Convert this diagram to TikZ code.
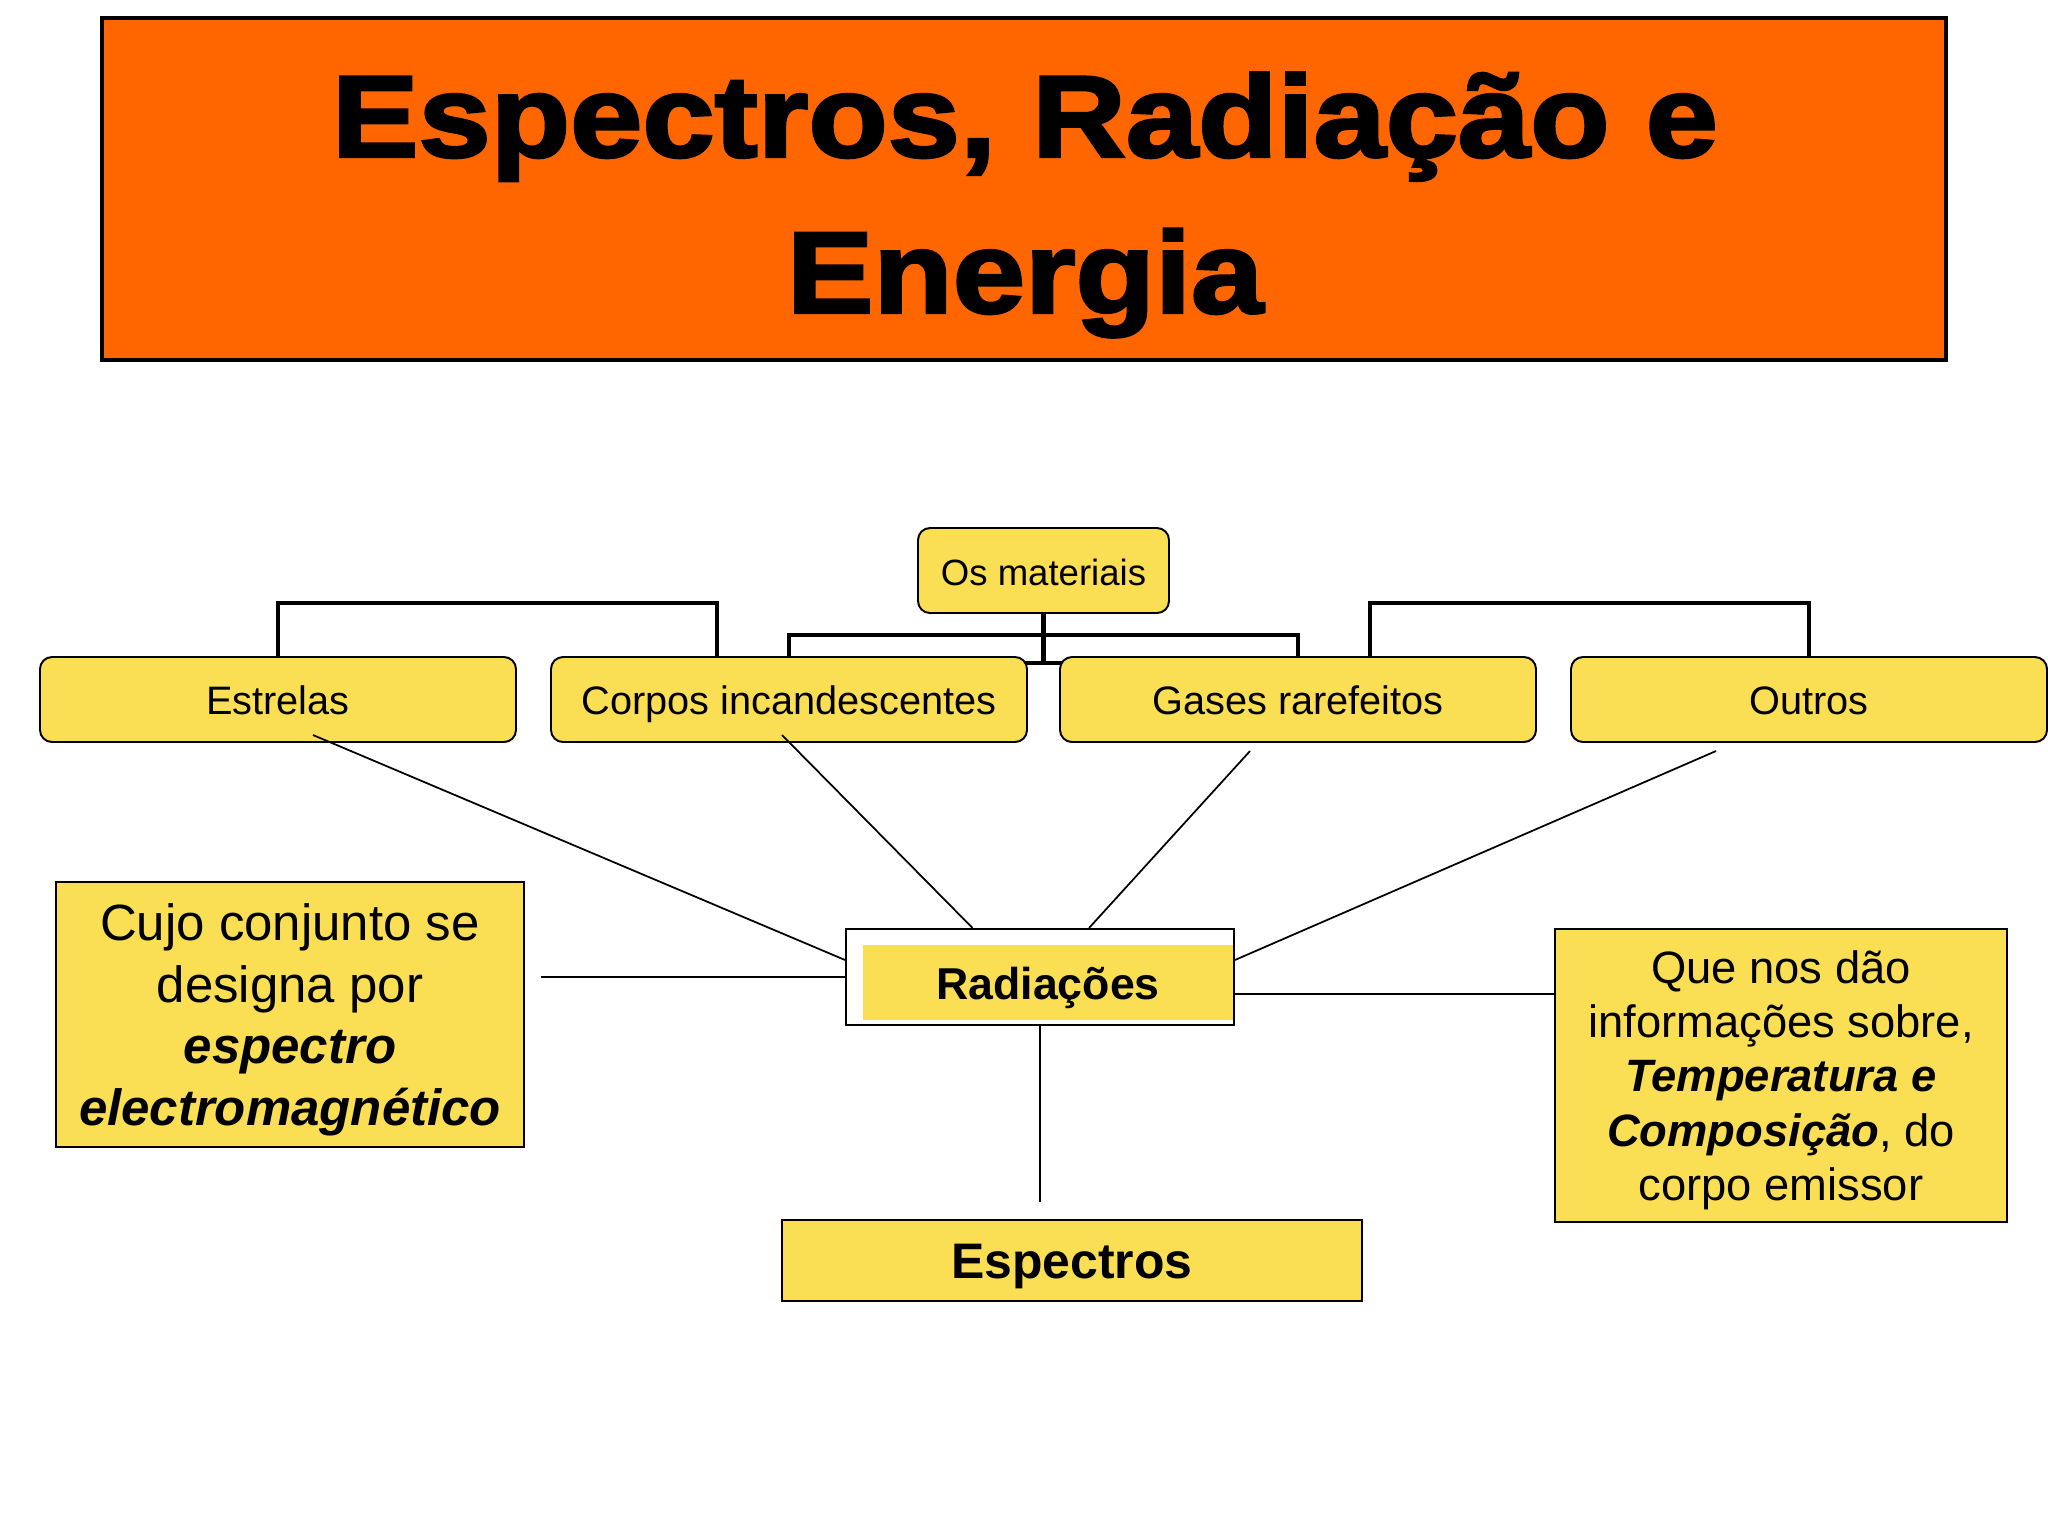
\documentclass[tikz,border=0pt]{standalone}
\usepackage{fontspec}
\setmainfont{Liberation Sans}
\newfontfamily\titlefont[FakeBold=2.5,FakeStretch=1.12]{Liberation Sans Bold}
\usetikzlibrary{calc, backgrounds}
\definecolor{titleorange}{RGB}{255,102,0}
\definecolor{boxyellow}{RGB}{250,222,84}
\tikzset{
  titlebox/.style = {draw, line width=1.2pt, fill=titleorange, inner sep=0pt,
                     minimum width=184.4mm, minimum height=34.2mm},
  titletxt/.style = {align=center, inner sep=0pt,
                     font=\titlefont\fontsize{33}{44.4}\selectfont},
  matbox/.style   = {draw, line width=0.55pt, fill=boxyellow, rounded corners=1.2mm,
                     inner sep=0pt, minimum width=47.6mm, minimum height=8.5mm,
                     text height=0.85em, text depth=0pt,
                     font=\fontsize{11.3}{13.5}\selectfont},
  headbox/.style  = {matbox, minimum width=25.1mm, font=\fontsize{10.4}{12.5}\selectfont},
  notebox/.style  = {draw, line width=0.6pt, fill=boxyellow, inner sep=0pt, align=center},
  radbox/.style   = {draw, line width=0.6pt, fill=white, inner sep=0pt,
                     minimum width=38.8mm, minimum height=9.6mm,
                     text height=1.29em, text depth=0pt,
                     font=\bfseries\fontsize{12.7}{15}\selectfont,
                     path picture={\fill[boxyellow]
                       ([shift={(1.7mm,-1.6mm)}]path picture bounding box.north west) rectangle
                       ([shift={(-0.1mm,0.5mm)}]path picture bounding box.south east);}},
  bracket/.style  = {line width=1.4pt},
  link/.style     = {line width=0.5pt},
}

\begin{document}
\begin{tikzpicture}[x=0.1mm, y=-0.1mm]
  \useasboundingbox (0,0) rectangle (2048,1536);

  % title
  \node[titlebox] (titlebox) at (1024,189) {};
  \node[titletxt] (title) at (1025,205) {Espectros, Radiação e\\Energia};

  % materials tree
  \node[headbox] (materiais) at (1043.5,570.5) {Os materiais};
  \node[matbox] (estrelas) at (278,699.5)  {Estrelas};
  \node[matbox] (corpos)   at (789,699.5)  {Corpos incandescentes};
  \node[matbox] (gases)    at (1298,699.5) {Gases rarefeitos};
  \node[matbox] (outros)   at (1809,699.5) {Outros};

  \coordinate (lbar) at (717,603);
  \coordinate (rbar) at (1370,603);
  \coordinate (mbar) at (1043.5,635);
  \coordinate (mjoin) at (1043.5,663);
  \begin{scope}[on background layer]
    \draw[bracket] (estrelas.north) |- (lbar) -- (lbar |- corpos.north);
    \draw[bracket] (outros.north) |- (rbar) -- (rbar |- gases.north);
    \draw[bracket] (corpos.north) |- (mbar) -| (gases.north);
    \draw[bracket] (materiais.south) -- (mjoin);
    \draw[bracket] (corpos.north |- mjoin) -- (gases.north |- mjoin);
  \end{scope}

  % radiation and notes
  \node[radbox] (rad) at (1040,977) {\hspace*{1.6mm}Radiações};
  \node[notebox, minimum width=46.8mm, minimum height=26.5mm, text depth=-3.8pt,
        font=\fontsize{14.5}{17.5}\selectfont] (conjunto) at (290,1014.5)
    {Cujo conjunto se\\designa por\\\textbf{\textit{espectro}}\\\textbf{\textit{electromagnético}}};
  \node[notebox, minimum width=45.2mm, minimum height=29.3mm, text depth=-3.3pt,
        font=\fontsize{12.9}{15.5}\selectfont] (info) at (1781,1075.5)
    {Que nos dão\\informações sobre,\\\textbf{\textit{Temperatura e}}\\\textbf{\textit{Composição}}, do\\corpo emissor};
  \node[notebox, minimum width=58mm, minimum height=8.1mm, text height=1.04em, text depth=0pt,
        font=\bfseries\fontsize{14.2}{17}\selectfont] (espectros) at (1072,1260.5) {Espectros};

  \coordinate (estrelas-foot) at (313,735);
  \coordinate (corpos-foot) at (782,735);
  \coordinate (gases-foot) at (1250,751);
  \coordinate (outros-foot) at (1716,751);
  \coordinate (conjunto-end) at (541,977);
  \coordinate (espectros-end) at (1040,1202);

  \draw[link] (estrelas-foot) -- (rad.175);
  \draw[link] (corpos-foot) -- (rad.144);
  \draw[link] (gases-foot) -- (rad.45);
  \draw[link] (outros-foot) -- (rad.5);
  \draw[link] (conjunto-end) -- (rad.west);
  \draw[link] (rad.-5) -- (rad.-5 -| info.west);
  \draw[link] (rad.south) -- (espectros-end);
\end{tikzpicture}
\end{document}
